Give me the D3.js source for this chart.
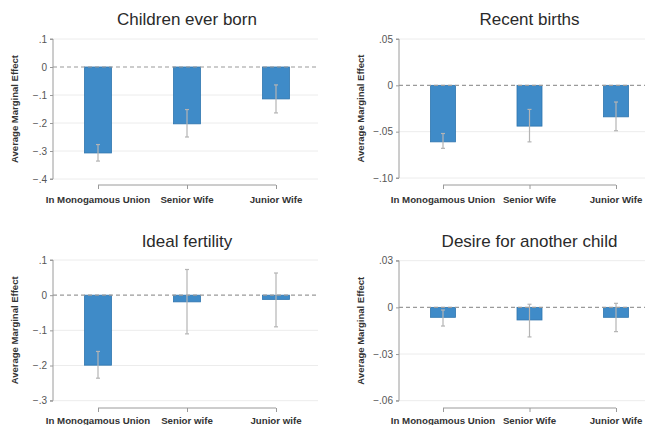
<!DOCTYPE html>
<html>
<head>
<meta charset="utf-8">
<script src="https://cdn.jsdelivr.net/npm/d3@7"></script>
<style>
  body { margin: 0; background: #fff; }
  svg { font-family: "Liberation Sans", Arial, sans-serif; }
</style>
</head>
<body>
<div id="chart"></div>
<script>
const catsTop = ["In Monogamous Union", "Senior Wife", "Junior Wife"];
const catsIdeal = ["In Monogamous Union", "Senior wife", "Junior wife"];

const cebValues = [-0.307, -0.203, -0.114];
const cebLow = [-0.336, -0.25, -0.164];
const cebHigh = [-0.277, -0.152, -0.064];
const cebTicks = [0.1, 0, -0.1, -0.2, -0.3, -0.4];
const cebTickLabels = [".1", "0", "−.1", "−.2", "−.3", "−.4"];

const recentValues = [-0.061, -0.044, -0.034];
const recentLow = [-0.068, -0.061, -0.049];
const recentHigh = [-0.052, -0.026, -0.018];
const recentTicks = [0.05, 0, -0.05, -0.1];
const recentTickLabels = [".05", "0", "−.05", "−.10"];

const idealValues = [-0.199, -0.019, -0.012];
const idealLow = [-0.236, -0.11, -0.09];
const idealHigh = [-0.16, 0.073, 0.063];
const idealTicks = [0.1, 0, -0.1, -0.2, -0.3];
const idealTickLabels = [".1", "0", "−.1", "−.2", "−.3"];

const desireValues = [-0.0064, -0.0081, -0.0064];
const desireLow = [-0.012, -0.019, -0.0156];
const desireHigh = [-0.0017, 0.002, 0.0026];
const desireTicks = [0.03, 0, -0.03, -0.06];
const desireTickLabels = [".03", "0", "−.03", "−.06"];

const width = 645;
const height = 425;

const svg = d3
  .select("#chart")
  .append("svg")
  .attr("width", width)
  .attr("height", height);

const panels = [
  { title: "Children ever born", cats: catsTop, values: cebValues, low: cebLow, high: cebHigh,
    ticks: cebTicks, tickLabels: cebTickLabels, left: 53, right: 318, top: 39, bottom: 179,
    xLo: 98, xHi: 276, axisY: 185, titleY: 25, labelY: 203, barW: 27 },
  { title: "Recent births", cats: catsTop, values: recentValues, low: recentLow, high: recentHigh,
    ticks: recentTicks, tickLabels: recentTickLabels, left: 399, right: 645, top: 39, bottom: 178,
    xLo: 443, xHi: 616, axisY: 185, titleY: 25, labelY: 203, barW: 25 },
  { title: "Ideal fertility", cats: catsIdeal, values: idealValues, low: idealLow, high: idealHigh,
    ticks: idealTicks, tickLabels: idealTickLabels, left: 53, right: 318, top: 260, bottom: 400.7,
    xLo: 98, xHi: 276, axisY: 408, titleY: 247, labelY: 424, barW: 27 },
  { title: "Desire for another child", cats: catsTop, values: desireValues, low: desireLow, high: desireHigh,
    ticks: desireTicks, tickLabels: desireTickLabels, left: 399, right: 645, top: 260.7, bottom: 400.7,
    xLo: 443, xHi: 616, axisY: 408, titleY: 247, labelY: 424, barW: 25 },
];

panels.forEach((p) => {
  const g = svg.append("g");
  const yScale = d3
    .scaleLinear()
    .domain([p.ticks[0], p.ticks[p.ticks.length - 1]])
    .range([p.top, p.bottom]);
  const xScale = d3.scalePoint().domain(p.cats).range([p.xLo, p.xHi]);

  // grid lines
  g.append("g")
    .selectAll("line")
    .data(p.ticks.filter((t) => t !== 0))
    .join("line")
    .attr("x1", p.left)
    .attr("x2", p.right)
    .attr("y1", (d) => yScale(d))
    .attr("y2", (d) => yScale(d))
    .attr("stroke", "#ececec")
    .attr("stroke-width", 1);

  // bars
  g.append("g")
    .selectAll("rect")
    .data(p.values)
    .join("rect")
    .attr("x", (d, i) => xScale(p.cats[i]) - p.barW / 2)
    .attr("y", (d) => Math.min(yScale(0), yScale(d)))
    .attr("width", p.barW)
    .attr("height", (d) => Math.abs(yScale(d) - yScale(0)))
    .attr("fill", "#3f8bc8")
    .attr("stroke", "#2f75ae")
    .attr("stroke-width", 0.8);

  // zero line
  g.append("line")
    .attr("x1", p.left)
    .attr("x2", p.right)
    .attr("y1", yScale(0))
    .attr("y2", yScale(0))
    .attr("stroke", "#9a9a9a")
    .attr("stroke-width", 1.2)
    .attr("stroke-dasharray", "4 3");

  // error bars
  const eb = g.append("g").attr("stroke", "#b4b4b4").attr("stroke-width", 1.2);
  p.values.forEach((v, i) => {
    const cx = xScale(p.cats[i]);
    eb.append("line")
      .attr("x1", cx).attr("x2", cx)
      .attr("y1", yScale(p.high[i])).attr("y2", yScale(p.low[i]));
    [p.high[i], p.low[i]].forEach((e) => {
      eb.append("line")
        .attr("x1", cx - 2).attr("x2", cx + 2)
        .attr("y1", yScale(e)).attr("y2", yScale(e));
    });
  });

  // y axis
  const yAxis = g
    .append("g")
    .attr("transform", `translate(${p.left},0)`)
    .call(
      d3.axisLeft(yScale)
        .tickValues(p.ticks)
        .tickSize(3)
        .tickPadding(3)
        .tickFormat((d, i) => p.tickLabels[i])
    );
  yAxis.select(".domain").attr("stroke", "#9a9a9a").attr("d", `M-3,${p.top}H0V${p.bottom}H-3`);
  yAxis.selectAll(".tick line").attr("stroke", "#9a9a9a");
  yAxis.selectAll(".tick text").attr("fill", "#555").attr("font-size", 10);

  g.append("text")
    .attr("transform", `translate(${p.left - 35},${(p.top + p.bottom) / 2}) rotate(-90)`)
    .attr("text-anchor", "middle")
    .attr("font-size", 9.5)
    .attr("font-weight", 700)
    .attr("fill", "#333")
    .text("Average Marginal Effect");

  // x axis
  const xAxis = g
    .append("g")
    .attr("transform", `translate(0,${p.axisY})`)
    .call(d3.axisBottom(xScale).tickSize(4).tickFormat(""));
  xAxis.select(".domain").attr("stroke", "#9a9a9a").attr("d", `M${p.xLo},0H${p.xHi}`);
  xAxis.selectAll(".tick line").attr("stroke", "#9a9a9a");

  g.append("g")
    .selectAll("text")
    .data(p.cats)
    .join("text")
    .attr("x", (d) => xScale(d))
    .attr("y", p.labelY)
    .attr("text-anchor", "middle")
    .attr("font-size", 9.7)
    .attr("font-weight", 700)
    .attr("fill", "#333")
    .text((d) => d);

  g.append("text")
    .attr("x", (p.xLo + p.xHi) / 2)
    .attr("y", p.titleY)
    .attr("text-anchor", "middle")
    .attr("font-size", 17)
    .attr("fill", "#2a2a2a")
    .text(p.title);
});
</script>
</body>
</html>
